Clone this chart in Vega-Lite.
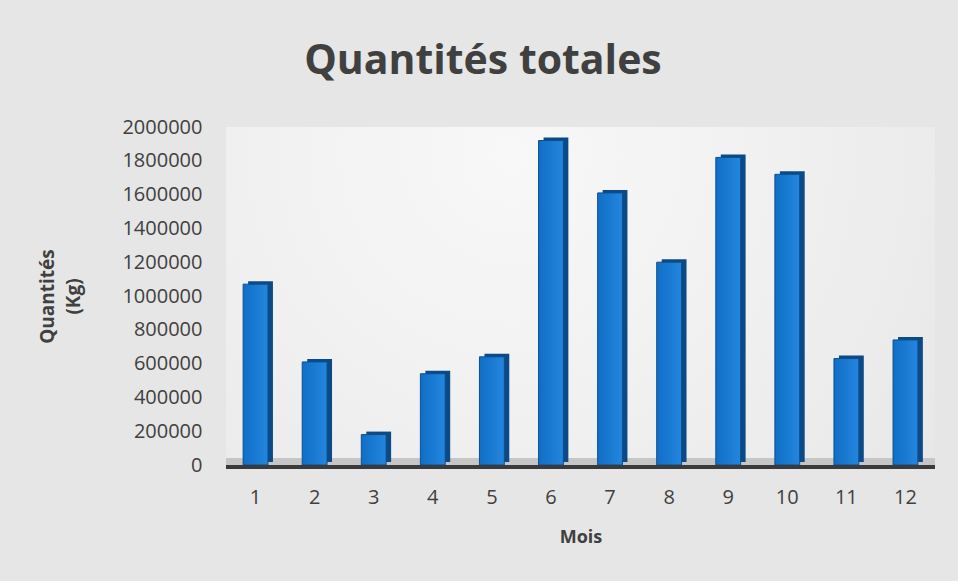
{
  "$schema": "https://vega.github.io/schema/vega-lite/v6.json",
  "autosize": {"type": "none"},
  "width": 709,
  "height": 338,
  "padding": {"left": 226, "top": 127, "right": 23, "bottom": 116},
  "background": "#e6e6e6",
  "title": {
    "text": "Quantités totales",
    "font": "Open Sans",
    "fontSize": 41,
    "fontWeight": "bold",
    "color": "#404040",
    "anchor": "middle",
    "frame": "bounds",
    "offset": 34,
    "dx": -6
  },
  "data": {
    "values": [
      {"Mois": "1", "Quantite": 1070000},
      {"Mois": "2", "Quantite": 610000},
      {"Mois": "3", "Quantite": 180000},
      {"Mois": "4", "Quantite": 540000},
      {"Mois": "5", "Quantite": 640000},
      {"Mois": "6", "Quantite": 1920000},
      {"Mois": "7", "Quantite": 1610000},
      {"Mois": "8", "Quantite": 1200000},
      {"Mois": "9", "Quantite": 1820000},
      {"Mois": "10", "Quantite": 1720000},
      {"Mois": "11", "Quantite": 630000},
      {"Mois": "12", "Quantite": 740000}
    ]
  },
  "config": {
    "view": {
      "stroke": null,
      "fill": {
        "gradient": "radial",
        "x1": 0.4, "y1": 0.3, "r1": 0,
        "x2": 0.4, "y2": 0.3, "r2": 0.8,
        "stops": [
          {"offset": 0, "color": "#f8f8f8"},
          {"offset": 0.55, "color": "#efefef"},
          {"offset": 1, "color": "#e6e6e6"}
        ]
      }
    },
    "axis": {
      "labelFont": "Open Sans",
      "titleFont": "Open Sans",
      "labelColor": "#404040",
      "titleColor": "#404040",
      "labelOverlap": false
    }
  },
  "layer": [
    {
      "mark": {"type": "rule", "color": "#c6c6c6", "strokeWidth": 8, "yOffset": -3},
      "encoding": {"y": {"datum": 0, "type": "quantitative"}}
    },
    {
      "mark": {
        "type": "bar",
        "xOffset": 5,
        "yOffset": -3,
        "fill": "#0b4a86"
      },
      "encoding": {
        "x": {
          "field": "Mois",
          "type": "ordinal",
          "sort": null,
          "scale": {"paddingInner": 0.58, "paddingOuter": 0.29},
          "axis": {
            "title": "Mois",
            "titleFontSize": 18,
            "titleFontWeight": "bold",
            "titlePadding": 21,
            "labelFontSize": 20,
            "labelAngle": 0,
            "labelPadding": 22,
            "domain": false,
            "ticks": false
          }
        },
        "y": {
          "field": "Quantite",
          "type": "quantitative",
          "scale": {"domain": [0, 2000000], "nice": false},
          "axis": {
            "title": ["Quantités", "(Kg)"],
            "titleFontSize": 19,
            "titleFontWeight": "bold",
            "titleLineHeight": 26,
            "titlePadding": 38,
            "values": [0, 200000, 400000, 600000, 800000, 1000000, 1200000, 1400000, 1600000, 1800000, 2000000],
            "tickCount": 12,
            "format": "d",
            "labelFontSize": 20,
            "labelOverlap": false,
            "labelPadding": 24,
            "domain": false,
            "ticks": false,
            "grid": false
          }
        }
      }
    },
    {
      "mark": {
        "type": "bar",
        "stroke": "#0d4f8f",
        "strokeWidth": 1,
        "fill": {
          "gradient": "linear",
          "x1": 0, "y1": 0, "x2": 1, "y2": 0,
          "stops": [
            {"offset": 0, "color": "#106ec6"},
            {"offset": 1, "color": "#2386de"}
          ]
        }
      },
      "encoding": {
        "x": {"field": "Mois", "type": "ordinal", "sort": null},
        "y": {"field": "Quantite", "type": "quantitative"}
      }
    },
    {
      "mark": {"type": "rule", "color": "#3a3a3a", "strokeWidth": 3, "yOffset": 2},
      "encoding": {"y": {"datum": 0, "type": "quantitative"}}
    }
  ]
}
